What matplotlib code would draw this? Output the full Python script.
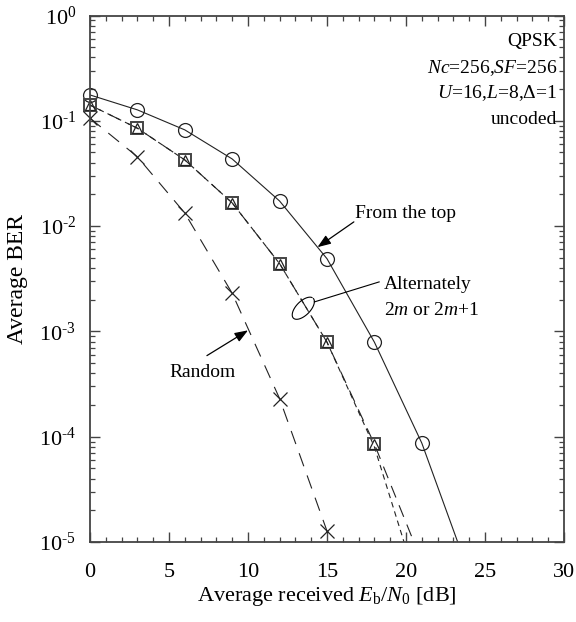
import numpy as np
import matplotlib
matplotlib.use("Agg")
import matplotlib.pyplot as plt
from matplotlib.ticker import FixedLocator, FuncFormatter, MultipleLocator, NullFormatter

plt.rcParams['font.family'] = ['Liberation Serif', 'DejaVu Serif']
plt.rcParams['mathtext.fontset'] = 'custom'
plt.rcParams['mathtext.rm'] = 'Liberation Serif'
plt.rcParams['mathtext.it'] = 'Liberation Serif:italic'
plt.rcParams['lines.scale_dashes'] = False

# -------------------------------------------------
# Data
# -------------------------------------------------
snr_marks = [0, 3, 6, 9, 12, 15, 18, 21]

# From the top (circles, solid)
top_ber = [0.176, 0.127, 0.082, 0.0434, 0.0173, 0.0049, 7.9e-4, 8.7e-5]
top_curve_x = [0, 3, 6, 9, 12, 15, 18, 21, 24]
top_curve_y = [0.176, 0.127, 0.082, 0.0434, 0.0173, 0.0049, 7.9e-4, 8.7e-5, 5.0e-6]

# Alternately 2m or 2m+1 (squares / triangles, dashed)
alt_x = [0, 3, 6, 9, 12, 15, 18]
alt_sq_ber = [0.141, 0.085, 0.0425, 0.0166, 0.0044, 7.9e-4, 8.5e-5]
alt_tr_ber = [0.141, 0.085, 0.0425, 0.0166, 0.0044, 7.9e-4, 8.5e-5]
alt_sq_curve_x = [0, 3, 6, 9, 12, 15, 18, 21]
alt_sq_curve_y = [0.141, 0.085, 0.0425, 0.0166, 0.0044, 7.9e-4, 8.5e-5, 6.5e-6]
alt_tr_curve_x = [0, 3, 6, 9, 12, 15, 18, 20.5]
alt_tr_curve_y = [0.141, 0.085, 0.0425, 0.0166, 0.0044, 7.9e-4, 8.0e-5, 5.0e-6]

# Random (crosses, long dashes)
rnd_x = [0, 3, 6, 9, 12, 15]
rnd_ber = [0.106, 0.0455, 0.0133, 0.0023, 2.3e-4, 1.27e-5]
rnd_curve_x = [0, 3, 6, 9, 12, 15, 16]
rnd_curve_y = [0.106, 0.0455, 0.0133, 0.0023, 2.3e-4, 1.27e-5, 4.0e-6]

x_ticks = [0, 5, 10, 15, 20, 25, 30]
y_ticks = [1e0, 1e-1, 1e-2, 1e-3, 1e-4, 1e-5]

info_lines = [
    "QPSK",
    r"$\mathit{Nc}$=256,$\mathit{SF}$=256",
    r"$\mathit{U}$=16,$\mathit{L}$=8,Δ=1",
    "uncoded",
]

# -------------------------------------------------
# Figure
# -------------------------------------------------
fig = plt.figure(figsize=(5.76, 6.22), dpi=100)
ax = fig.add_axes([90 / 576, 1 - 542 / 622, 474 / 576, 526.5 / 622])

ink = '#222222'
lw = 0.8

ax.plot(top_curve_x, top_curve_y, color=ink, lw=lw)
ax.plot(snr_marks, top_ber, 'o', ms=10, mfc='none', mec=ink, mew=0.9, clip_on=False)

ax.plot(alt_sq_curve_x, alt_sq_curve_y, color=ink, lw=lw, dashes=(9, 6))
ax.plot(alt_tr_curve_x, alt_tr_curve_y, color=ink, lw=lw, dashes=(4, 3))
ax.plot(alt_x, alt_sq_ber, 's', ms=9, mfc='none', mec='#444444', mew=1.4, clip_on=False)
ax.plot(alt_x, alt_tr_ber, '^', ms=7, mfc='none', mec=ink, mew=0.9, clip_on=False)

ax.plot(rnd_curve_x, rnd_curve_y, color=ink, lw=lw, dashes=(10, 7))
ax.plot(rnd_x, rnd_ber, 'x', ms=10, mec=ink, mew=0.9, clip_on=False)

ax.set_yscale('log')
ax.set_xlim(0, 30)
ax.set_ylim(1e-5, 1e0)

ax.xaxis.set_major_locator(FixedLocator(x_ticks))
ax.xaxis.set_minor_locator(MultipleLocator(1))
ax.yaxis.set_major_locator(FixedLocator(y_ticks))
ax.yaxis.set_minor_locator(FixedLocator(
    [m * 10.0 ** e for e in range(-5, 0) for m in range(2, 10)]))
ax.yaxis.set_major_formatter(FuncFormatter(
    lambda v, p: r"$10^{\text{%d}}$" % round(np.log10(v))))
ax.yaxis.set_minor_formatter(NullFormatter())

ax.tick_params(which='both', direction='in', top=True, right=True,
               colors='#444444', labelcolor='black', labelsize=16)
ax.tick_params(which='major', length=7, width=1.0)
ax.tick_params(which='minor', length=3.6, width=0.9)
ax.tick_params(axis='x', pad=15)
ax.tick_params(axis='y', pad=10)
for s in ax.spines.values():
    s.set_color('#444444')
    s.set_linewidth(1.3)

ax.set_xlabel(r"Average received $E_{\mathrm{b}}/N_0$ [dB]", fontsize=16, labelpad=2)
ax.set_ylabel("Average BER", fontsize=17, labelpad=8)

# -------------------------------------------------
# Annotations
# -------------------------------------------------
for i, line in enumerate(info_lines):
    ax.text(0.985, 0.95 - i * 0.049, line, transform=ax.transAxes,
            ha='right', va='center', fontsize=14)

arrow = dict(arrowstyle='-|>,head_length=0.8,head_width=0.3',
             color='black', lw=0.9, shrinkA=0, shrinkB=0)

ax.annotate("", xy=(14.4, 10 ** -2.2), xytext=(16.7, 10 ** -1.96), arrowprops=arrow)
ax.text(16.8, 10 ** -1.88, "From the top", fontsize=14, ha='left', va='center')
ax.annotate("", xy=(10.0, 10 ** -2.99), xytext=(7.4, 10 ** -3.23),
            arrowprops=arrow)
ax.text(7.1, 10 ** -3.39, "Random", fontsize=14, ha='center', va='center')

ax.text(18.6, 10 ** -2.55, "Alternately", fontsize=14, ha='left', va='center')
ax.text(18.6, 10 ** -2.80, r"2$\mathit{m}$ or 2$\mathit{m}$+1", fontsize=14,
        ha='left', va='center')
ax.plot([14.2, 18.3], [10 ** -2.72, 10 ** -2.53], color='black', lw=0.8)

# ellipse around the two dashed curves, drawn in pixel space
cx, cy = ax.transData.transform((13.5, 10 ** -2.78))
t = np.linspace(0.2, 2 * np.pi - 0.05, 100)
ang = np.deg2rad(45)
ex = 14 * np.cos(t)
ey = 7 * np.sin(t)
px = cx + ex * np.cos(ang) - ey * np.sin(ang)
py = cy + ex * np.sin(ang) + ey * np.cos(ang)
dat = ax.transData.inverted().transform(np.column_stack([px, py]))
ax.plot(dat[:, 0], dat[:, 1], color='black', lw=0.8)

fig.savefig("out.png", dpi=100)
